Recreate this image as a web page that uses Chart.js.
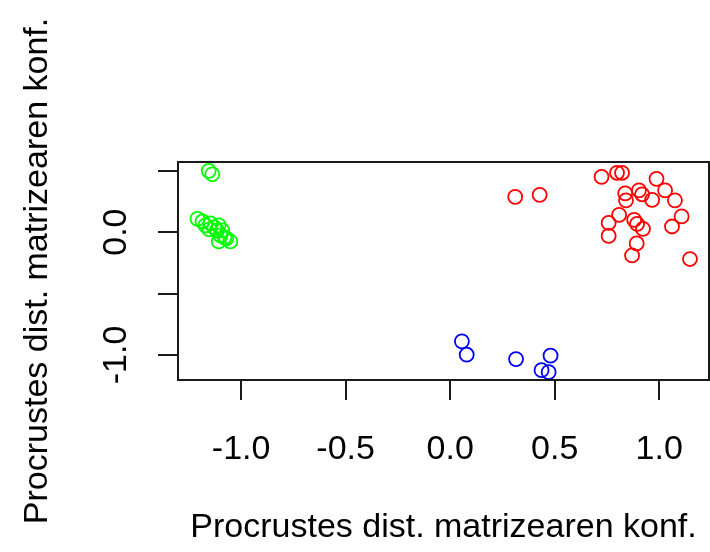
<!DOCTYPE html>
<html lang="eu">
<head>
<meta charset="UTF-8">
<title>Procrustes dist. matrizearen konf.</title>
<script src="https://cdn.jsdelivr.net/npm/chart.js"></script>
<style>
  html, body { margin: 0; padding: 0; background: #fff; }
  #plot { display: block; }
</style>
</head>
<body>
<canvas id="plot" width="710" height="552"></canvas>
<script>
// talde bakoitzeko puntuak (x, y)
var gorriX = [0.311, 0.428, 0.724, 0.798, 0.822, 0.987, 0.837, 0.841, 0.903, 0.918, 0.966, 1.028, 1.075,
              0.808, 0.758, 0.758, 0.880, 0.894, 0.922, 1.107, 1.061, 0.892, 0.870, 1.147];
var gorriY = [0.287, 0.303, 0.450, 0.483, 0.483, 0.434, 0.316, 0.259, 0.340, 0.308, 0.263, 0.340, 0.259,
              0.140, 0.075, -0.031, 0.100, 0.067, 0.026, 0.128, 0.046, -0.092, -0.190, -0.219];

var berdeX = [-1.155, -1.138, -1.209, -1.185, -1.171, -1.147, -1.128, -1.107, -1.116, -1.090, -1.099,
              -1.080, -1.107, -1.052, -1.071, -1.152];
var berdeY = [0.499, 0.471, 0.108, 0.087, 0.055, 0.071, 0.038, 0.055, 0.014, 0.014, -0.027,
              -0.043, -0.076, -0.076, -0.051, 0.022];

var urdinX = [0.056, 0.079, 0.315, 0.480, 0.437, 0.471];
var urdinY = [-0.889, -0.998, -1.034, -1.006, -1.124, -1.140];

var xTicks = [-1.0, -0.5, 0.0, 0.5, 1.0];
var yTicks = [-1.0, -0.5, 0.0, 0.5];
var yEtiketak = [-1.0, 0.0];   // R-k gainjartzen ez diren etiketak bakarrik idazten ditu

var izenburua = "Procrustes dist. matrizearen konf.";
var letra = "Liberation Sans, Arial, sans-serif";
var tamaina = 34;

function puntuak(xs, ys) {
  var emaitza = [];
  for (var i = 0; i < xs.length; i++) {
    emaitza.push({ x: xs[i], y: ys[i] });
  }
  return emaitza;
}

function multzoa(xs, ys, kolorea) {
  return {
    data: puntuak(xs, ys),
    showLine: false,
    pointStyle: "circle",
    pointRadius: 7,
    pointHoverRadius: 7,
    pointBorderWidth: 1.8,
    borderColor: kolorea,
    backgroundColor: "rgba(0,0,0,0)",
    clip: false
  };
}

// koadroa eta y ardatzeko etiketa biratuak
var koadroa = {
  id: "koadroa",
  afterDraw: function(chart) {
    var ctx = chart.ctx;
    var a = chart.chartArea;
    ctx.save();
    ctx.strokeStyle = "#1a1a1a";
    ctx.lineWidth = 2;
    ctx.strokeRect(a.left, a.top, a.right - a.left, a.bottom - a.top);

    var y = chart.scales.y;
    ctx.fillStyle = "#000";
    ctx.font = tamaina + "px " + letra;
    ctx.textAlign = "center";
    ctx.textBaseline = "middle";
    for (var i = 0; i < yEtiketak.length; i++) {
      var py = y.getPixelForValue(yEtiketak[i]);
      ctx.save();
      ctx.translate(117, py);
      ctx.rotate(-Math.PI / 2);
      ctx.fillText(yEtiketak[i].toFixed(1), 0, 0);
      ctx.restore();
    }
    ctx.restore();
  }
};

var chart = new Chart(document.getElementById("plot").getContext("2d"), {
  type: "scatter",
  data: {
    datasets: [
      multzoa(gorriX, gorriY, "#ff0000"),
      multzoa(berdeX, berdeY, "#00ff00"),
      multzoa(urdinX, urdinY, "#0000ff")
    ]
  },
  options: {
    responsive: false,
    animation: false,
    events: [],
    layout: {
      autoPadding: false,
      padding: { top: 162, right: 1, left: 0, bottom: 0 }
    },
    plugins: {
      legend: { display: false },
      tooltip: { enabled: false }
    },
    scales: {
      x: {
        type: "linear",
        min: -1.302,
        max: 1.238,
        afterFit: function(scale) {
          scale.height = 172;
          scale.paddingLeft = 0;
          scale.paddingRight = 0;
        },
        afterBuildTicks: function(scale) {
          scale.ticks = xTicks.map(function(v) { return { value: v }; });
        },
        border: { display: false },
        grid: {
          drawOnChartArea: false,
          drawTicks: true,
          tickLength: 20,
          color: "#1a1a1a",
          lineWidth: 2
        },
        ticks: {
          autoSkip: false,
          maxRotation: 0,
          padding: 29,
          color: "#000",
          font: { family: letra, size: tamaina },
          callback: function(v) { return Number(v).toFixed(1); }
        },
        title: {
          display: true,
          text: izenburua,
          color: "#000",
          font: { family: letra, size: tamaina },
          padding: { top: 0, bottom: 4 }
        }
      },
      y: {
        type: "linear",
        min: -1.204,
        max: 0.571,
        afterFit: function(scale) {
          scale.width = 178;
          scale.paddingTop = 0;
          scale.paddingBottom = 0;
        },
        afterBuildTicks: function(scale) {
          scale.ticks = yTicks.map(function(v) { return { value: v }; });
        },
        border: { display: false },
        grid: {
          drawOnChartArea: false,
          drawTicks: true,
          tickLength: 20,
          color: "#1a1a1a",
          lineWidth: 2
        },
        ticks: { display: false, autoSkip: false },
        title: {
          display: true,
          text: izenburua,
          color: "#000",
          font: { family: letra, size: tamaina },
          padding: { top: 17, bottom: 0 }
        }
      }
    }
  },
  plugins: [koadroa]
});
</script>
</body>
</html>
